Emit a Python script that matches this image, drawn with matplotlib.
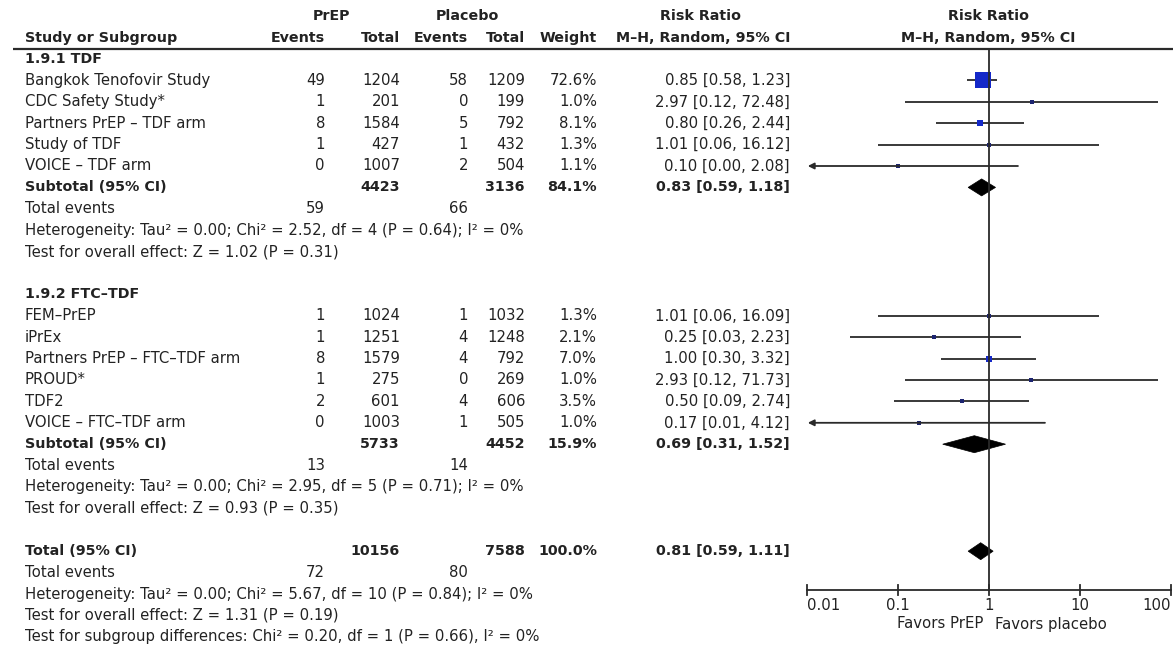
import numpy as np
import matplotlib.pyplot as plt
from matplotlib.patches import Polygon

# ---------------- data ----------------
group_titles = ["1.9.1 TDF", "1.9.2 FTC–TDF"]

names1 = ["Bangkok Tenofovir Study", "CDC Safety Study*", "Partners PrEP – TDF arm",
          "Study of TDF", "VOICE – TDF arm"]
prep_ev1 = [49, 1, 8, 1, 0]
prep_tot1 = [1204, 201, 1584, 427, 1007]
plac_ev1 = [58, 0, 5, 1, 2]
plac_tot1 = [1209, 199, 792, 432, 504]
weight1 = [72.6, 1.0, 8.1, 1.3, 1.1]
rr1 = [0.85, 2.97, 0.80, 1.01, 0.10]
lo1 = [0.58, 0.12, 0.26, 0.06, 0.00]
hi1 = [1.23, 72.48, 2.44, 16.12, 2.08]

names2 = ["FEM–PrEP", "iPrEx", "Partners PrEP – FTC–TDF arm", "PROUD*", "TDF2",
          "VOICE – FTC–TDF arm"]
prep_ev2 = [1, 1, 8, 1, 2, 0]
prep_tot2 = [1024, 1251, 1579, 275, 601, 1003]
plac_ev2 = [1, 4, 4, 0, 4, 1]
plac_tot2 = [1032, 1248, 792, 269, 606, 505]
weight2 = [1.3, 2.1, 7.0, 1.0, 3.5, 1.0]
rr2 = [1.01, 0.25, 1.00, 2.93, 0.50, 0.17]
lo2 = [0.06, 0.03, 0.30, 0.12, 0.09, 0.01]
hi2 = [16.09, 2.23, 3.32, 71.73, 2.74, 4.12]

sub_prep_tot = [4423, 5733, 10156]
sub_plac_tot = [3136, 4452, 7588]
sub_weight = [84.1, 15.9, 100.0]
sub_rr = [0.83, 0.69, 0.81]
sub_lo = [0.59, 0.31, 0.59]
sub_hi = [1.18, 1.52, 1.11]
sub_prep_ev = [59, 13, 72]
sub_plac_ev = [66, 14, 80]
het_text = ["Heterogeneity: Tau² = 0.00; Chi² = 2.52, df = 4 (P = 0.64); I² = 0%",
            "Heterogeneity: Tau² = 0.00; Chi² = 2.95, df = 5 (P = 0.71); I² = 0%",
            "Heterogeneity: Tau² = 0.00; Chi² = 5.67, df = 10 (P = 0.84); I² = 0%"]
effect_text = ["Test for overall effect: Z = 1.02 (P = 0.31)",
               "Test for overall effect: Z = 0.93 (P = 0.35)",
               "Test for overall effect: Z = 1.31 (P = 0.19)"]
subgroup_text = "Test for subgroup differences: Chi² = 0.20, df = 1 (P = 0.66), I² = 0%"

axis_ticks = [0.01, 0.1, 1, 10, 100]
axis_labels = ["0.01", "0.1", "1", "10", "100"]

# ---------------- layout ----------------
W, H = 1173, 651
fig = plt.figure(figsize=(W / 100, H / 100), dpi=100)
ax = fig.add_axes([0, 0, 1, 1])
ax.set_xlim(0, W)
ax.set_ylim(H, 0)
ax.axis('off')

FX0, FX1 = 807, 1171
fa = fig.add_axes([FX0 / W, 0, (FX1 - FX0) / W, 1])
fa.set_xscale('log')
fa.set_xlim(0.01, 100)
fa.set_ylim(H, 0)
fa.axis('off')

FONT = 'DejaVu Sans'
FS = 10.7
FSB = 10.3
TC = '#222222'
LC = '#2a2a2a'
BLUE = '#1428c8'

X_NAME = 25
X_PEV, X_PTOT, X_CEV, X_CTOT, X_W, X_RR = 325, 400, 468, 525, 597, 790
Y0, DY = 59, 21.4


def row_y(i):
    return Y0 + DY * i


def txt(x, y, s, ha='left', bold=False):
    ax.text(x, y, s, ha=ha, va='center', fontsize=FSB if bold else FS, family=FONT,
            color=TC, fontweight='bold' if bold else 'normal')


# headers
HY1, HY2, HLINE = 16, 38, 49
txt(332, HY1, "PrEP", ha='center', bold=True)
txt(467, HY1, "Placebo", ha='center', bold=True)
txt(701, HY1, "Risk Ratio", ha='center', bold=True)
txt(988, HY1, "Risk Ratio", ha='center', bold=True)
txt(X_NAME, HY2, "Study or Subgroup", bold=True)
txt(X_PEV, HY2, "Events", ha='right', bold=True)
txt(X_PTOT, HY2, "Total", ha='right', bold=True)
txt(X_CEV, HY2, "Events", ha='right', bold=True)
txt(X_CTOT, HY2, "Total", ha='right', bold=True)
txt(X_W, HY2, "Weight", ha='right', bold=True)
txt(X_RR, HY2, "M–H, Random, 95% CI", ha='right', bold=True)
txt(988, HY2, "M–H, Random, 95% CI", ha='center', bold=True)
ax.plot([13, W], [HLINE, HLINE], color=LC, lw=1.6, solid_capstyle='butt')


def diamond(y, r, l, h, half=8.5):
    fa.add_patch(Polygon([(l, y), (r, y - half), (h, y), (r, y + half)],
                         closed=True, facecolor='black', edgecolor='black', lw=0.5))


def study_row(y, name, pe, pt, ce, ct, w, r, l, h):
    txt(X_NAME, y, name)
    txt(X_PEV, y, f"{pe}", ha='right')
    txt(X_PTOT, y, f"{pt}", ha='right')
    txt(X_CEV, y, f"{ce}", ha='right')
    txt(X_CTOT, y, f"{ct}", ha='right')
    txt(X_W, y, f"{w:.1f}%", ha='right')
    txt(X_RR, y, f"{r:.2f} [{l:.2f}, {h:.2f}]", ha='right')
    right = min(h, 100)
    if l <= 0.01:
        fa.annotate('', xy=(0.0102, y), xytext=(right, y),
                    arrowprops=dict(arrowstyle='-|>', lw=1.3, color=LC,
                                    mutation_scale=9, shrinkA=0, shrinkB=0))
    else:
        fa.plot([l, right], [y, y], color=LC, lw=1.3, solid_capstyle='butt')
    size = max(12.2 * np.sqrt(w / 72.6), 2.2)
    fa.plot([r], [y], marker='s', markersize=size, color=BLUE if w > 5 else '#1c2470',
            markeredgewidth=0)


groups = [
    (names1, prep_ev1, prep_tot1, plac_ev1, plac_tot1, weight1, rr1, lo1, hi1),
    (names2, prep_ev2, prep_tot2, plac_ev2, plac_tot2, weight2, rr2, lo2, hi2),
]

i = 0
for g, data in enumerate(groups):
    txt(X_NAME, row_y(i), group_titles[g], bold=True)
    i += 1
    for k in range(len(data[0])):
        study_row(row_y(i), *(d[k] for d in data))
        i += 1
    y = row_y(i)
    txt(X_NAME, y, "Subtotal (95% CI)", bold=True)
    txt(X_PTOT, y, f"{sub_prep_tot[g]}", ha='right', bold=True)
    txt(X_CTOT, y, f"{sub_plac_tot[g]}", ha='right', bold=True)
    txt(X_W, y, f"{sub_weight[g]:.1f}%", ha='right', bold=True)
    txt(X_RR, y, f"{sub_rr[g]:.2f} [{sub_lo[g]:.2f}, {sub_hi[g]:.2f}]", ha='right', bold=True)
    diamond(y, sub_rr[g], sub_lo[g], sub_hi[g])
    i += 1
    y = row_y(i)
    txt(X_NAME, y, "Total events")
    txt(X_PEV, y, f"{sub_prep_ev[g]}", ha='right')
    txt(X_CEV, y, f"{sub_plac_ev[g]}", ha='right')
    i += 1
    txt(X_NAME, row_y(i), het_text[g]); i += 1
    txt(X_NAME, row_y(i), effect_text[g]); i += 1
    i += 1

# overall total
y = row_y(i)
txt(X_NAME, y, "Total (95% CI)", bold=True)
txt(X_PTOT, y, f"{sub_prep_tot[2]}", ha='right', bold=True)
txt(X_CTOT, y, f"{sub_plac_tot[2]}", ha='right', bold=True)
txt(X_W, y, f"{sub_weight[2]:.1f}%", ha='right', bold=True)
txt(X_RR, y, f"{sub_rr[2]:.2f} [{sub_lo[2]:.2f}, {sub_hi[2]:.2f}]", ha='right', bold=True)
diamond(y, sub_rr[2], sub_lo[2], sub_hi[2])
i += 1
y = row_y(i)
txt(X_NAME, y, "Total events")
txt(X_PEV, y, f"{sub_prep_ev[2]}", ha='right')
txt(X_CEV, y, f"{sub_plac_ev[2]}", ha='right')
i += 1
txt(X_NAME, row_y(i), het_text[2]); i += 1
txt(X_NAME, row_y(i), effect_text[2]); i += 1
txt(X_NAME, row_y(i), subgroup_text)

# forest axis
AXY = 590
fa.plot([1, 1], [HLINE, AXY], color=LC, lw=1.3)
fa.plot([axis_ticks[0], axis_ticks[-1]], [AXY, AXY], color=LC, lw=1.3, clip_on=False)
for t, lab in zip(axis_ticks, axis_labels):
    fa.plot([t, t], [AXY - 5, AXY + 5], color=LC, lw=1.3, clip_on=False)
    ha = 'left' if t == axis_ticks[0] else ('right' if t == axis_ticks[-1] else 'center')
    fa.text(t, AXY + 15, lab, ha=ha, va='center', fontsize=FS, family=FONT, color=TC)
fa.text(0.86, AXY + 34, "Favors PrEP", ha='right', va='center', fontsize=FS, family=FONT, color=TC)
fa.text(1.16, AXY + 34, "Favors placebo", ha='left', va='center', fontsize=FS, family=FONT, color=TC)

fig.savefig('out.png', dpi=100, facecolor='white')
